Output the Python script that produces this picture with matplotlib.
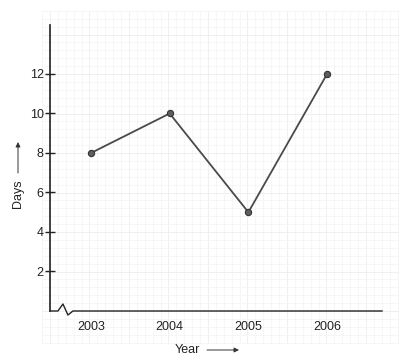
import matplotlib
matplotlib.use("Agg")
import matplotlib.pyplot as plt
import numpy as np

years = ["2003", "2004", "2005", "2006"]
days = [8, 10, 5, 12]
yticks = [2, 4, 6, 8, 10, 12]

plt.rcParams['font.family'] = ['Liberation Sans', 'DejaVu Sans']

W, H = 406, 361
fig = plt.figure(figsize=(W / 100, H / 100), dpi=100)

# faint graph-paper background
bg = fig.add_axes([0, 0, 1, 1], zorder=0)
bg.set_xlim(0, W)
bg.set_ylim(H, 0)
bg.axis('off')
step = 7.9
gx = np.arange(50 - 1 * step, 402, step)
gy = np.arange(311 + 4 * step, 10, -step)
for i, x in enumerate(gx):
    c = '#ececec' if (i - 1) % 5 == 0 else '#f5f5f5'
    bg.plot([x, x], [gy[-1], gy[0]], color=c, lw=0.6)
for i, y in enumerate(gy):
    c = '#ececec' if (i - 4) % 5 == 0 else '#f5f5f5'
    bg.plot([gx[0], gx[-1]], [y, y], color=c, lw=0.6)

left, right = 50 / W, 382 / W
bottom, top = 1 - 311 / H, 1 - 25 / H
ax = fig.add_axes([left, bottom, right - left, top - bottom], zorder=1)
ax.patch.set_alpha(0)

x = np.arange(len(years))
ax.plot(x, days, color='#4a4a4a', lw=1.3, marker='o', markersize=4.5,
        markerfacecolor='#5e5e5e', markeredgecolor='#333333', markeredgewidth=0.8)

ax.set_xlim(-0.521, 3.698)
ax.set_ylim(0, 14.48)

for s in ['top', 'right', 'bottom']:
    ax.spines[s].set_visible(False)
ax.spines['left'].set_linewidth(1.2)
ax.spines['left'].set_color('#222222')

ax.set_yticks(yticks)
ax.set_yticklabels([str(v) for v in yticks])
ax.set_xticks(x)
ax.set_xticklabels(years)
ax.tick_params(axis='y', direction='inout', length=7, width=1, color='#222222',
               labelsize=9, labelcolor='#222222', pad=1)
ax.tick_params(axis='x', length=0, pad=7, labelsize=9, labelcolor='#222222')

# broken bottom axis with zigzag
zx = [0, 0.024, 0.039, 0.054, 0.069, 1.0]
zy = [0, 0, 0.0245, -0.014, 0, 0]
ax.plot(zx, zy, transform=ax.transAxes, color='#222222', lw=1.0, clip_on=False)

# axis titles with arrows
fig.text(175 / W, 1 - 350 / H, 'Year', ha='left', va='center', fontsize=9, color='#222222')
ax.annotate('', xy=(239 / W, 1 - 350 / H), xytext=(207 / W, 1 - 350 / H),
            xycoords='figure fraction', textcoords='figure fraction',
            arrowprops=dict(arrowstyle='-|>', color='#333333', lw=0.7,
                            mutation_scale=7, shrinkA=0, shrinkB=0))
fig.text(18 / W, 1 - 194 / H, 'Days', ha='center', va='center', rotation=90,
         fontsize=9, color='#222222')
ax.annotate('', xy=(18 / W, 1 - 142 / H), xytext=(18 / W, 1 - 173 / H),
            xycoords='figure fraction', textcoords='figure fraction',
            arrowprops=dict(arrowstyle='-|>', color='#333333', lw=0.7,
                            mutation_scale=7, shrinkA=0, shrinkB=0))

fig.savefig('out.png', dpi=100)
